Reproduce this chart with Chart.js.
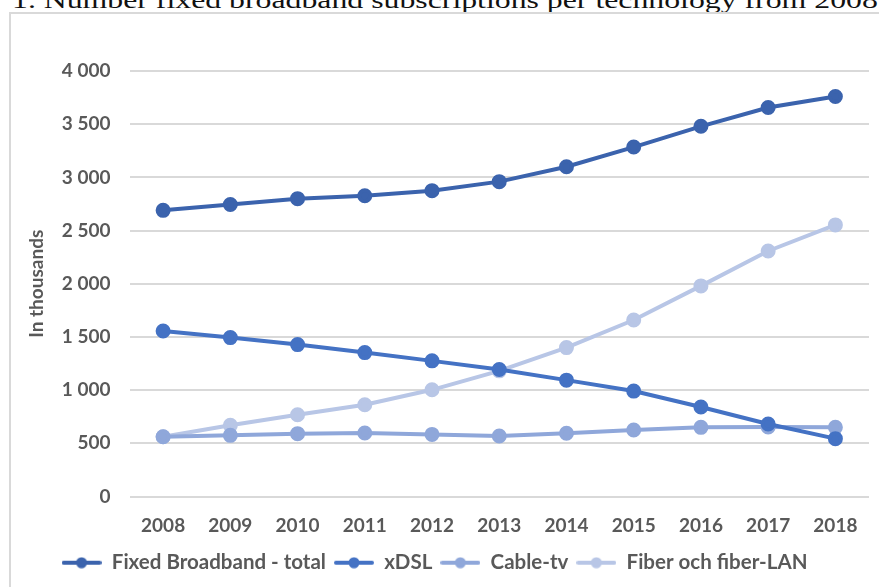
<!DOCTYPE html>
<html>
<head>
<meta charset="utf-8">
<script src="https://cdn.jsdelivr.net/npm/chart.js@4/dist/chart.umd.min.js"></script>
<style>
  html, body { margin: 0; padding: 0; background: #fff; overflow: hidden; }
  body { width: 879px; height: 587px; position: relative; }
  #caption {
    position: absolute; left: 12px; top: -13px; white-space: nowrap;
    font-family: "Liberation Serif", serif; font-size: 24px; color: #111;
    transform-origin: 0 0;
  }
  #frame {
    position: absolute; left: 9px; top: 12px; width: 900px; height: 600px;
    border: 2px solid #d9d9d9; box-sizing: border-box;
  }
  #wrap { position: absolute; left: 0; top: 0; width: 879px; height: 587px; }
</style>
</head>
<body>
<div id="caption">1. Number fixed broadband subscriptions per technology from 2008</div>
<div id="frame"></div>
<div id="wrap"><canvas id="chart"></canvas></div>
<script>
// years on the x axis
const years = ['2008', '2009', '2010', '2011', '2012', '2013', '2014', '2015', '2016', '2017', '2018'];

// subscriptions, in thousands
const total = [2690, 2745, 2800, 2827, 2875, 2960, 3100, 3285, 3480, 3657, 3760];
const xdsl = [1556, 1494, 1428, 1353, 1275, 1194, 1094, 991, 841, 681, 544];
const cableTv = [562, 575, 591, 597, 584, 569, 594, 625, 650, 653, 650];
const fiber = [562, 669, 769, 862, 1003, 1181, 1400, 1659, 1980, 2308, 2553];

const seriesNames = ['Fixed Broadband - total', 'xDSL', 'Cable-tv', 'Fiber och fiber-LAN'];
const seriesColors = ['#3b63ad', '#4472c4', '#8fa7da', '#b8c6e6'];

// stretch the cut-off caption so it spans the page like the original
const cap = document.getElementById('caption');
cap.style.transform = 'scaleX(' + (866 / cap.scrollWidth) + ')';

function legendMarker(color) {
  const c = document.createElement('canvas');
  c.width = 40; c.height = 12;
  const g = c.getContext('2d');
  g.strokeStyle = color; g.lineWidth = 4; g.lineCap = 'round';
  g.beginPath(); g.moveTo(2, 6); g.lineTo(38, 6); g.stroke();
  g.fillStyle = color;
  g.beginPath(); g.arc(20, 6, 5.5, 0, Math.PI * 2); g.fill();
  return c;
}

const font = { family: 'Lato, "Open Sans", sans-serif', size: 19, weight: 'bold' };
const legendFont = { family: 'Lato, "Open Sans", sans-serif', size: 20.5, weight: 'bold' };
const grey = '#595959';

const values = [total, xdsl, cableTv, fiber];
const datasets = values.map((v, i) => ({
  label: seriesNames[i],
  data: v,
  borderColor: seriesColors[i],
  backgroundColor: seriesColors[i],
  borderWidth: 4,
  pointRadius: 5.5,
  pointHoverRadius: 5.5,
  pointStyle: 'circle',
  tension: 0,
  order: i + 1
}));

new Chart(document.getElementById('chart'), {
  type: 'line',
  data: { labels: years, datasets: datasets },
  options: {
    responsive: true,
    maintainAspectRatio: false,
    animation: false,
    layout: { padding: { top: 71, right: 10, left: 0, bottom: 4 } },
    plugins: {
      tooltip: { enabled: false },
      legend: {
        position: 'bottom',
        labels: {
          color: grey,
          font: legendFont,
          usePointStyle: true,
          pointStyleWidth: 40,
          padding: 8,
          generateLabels: (chart) => chart.data.datasets.map((d, i) => ({
            text: d.label,
            fillStyle: d.borderColor,
            strokeStyle: d.borderColor,
            pointStyle: legendMarker(d.borderColor),
            fontColor: grey,
            datasetIndex: i,
            lineWidth: 0
          }))
        }
      }
    },
    scales: {
      x: {
        offset: true,
        afterFit: (s) => { s.height = 48; },
        grid: { display: false, drawTicks: false },
        border: { display: false },
        ticks: { color: grey, font: font, padding: 18, maxRotation: 0 }
      },
      y: {
        min: 0,
        max: 4000,
        afterFit: (s) => { s.width = 129.5; },
        grid: { color: '#d9d9d9', lineWidth: 2, drawTicks: false },
        border: { display: false },
        title: {
          display: true,
          text: 'In thousands',
          color: grey,
          font: font,
          padding: { top: 25, bottom: 0 }
        },
        ticks: {
          stepSize: 500,
          color: grey,
          font: font,
          padding: 19,
          callback: (v) => String(v).replace(/\B(?=(\d{3})+(?!\d))/g, ' ')
        }
      }
    }
  }
});
</script>
</body>
</html>
